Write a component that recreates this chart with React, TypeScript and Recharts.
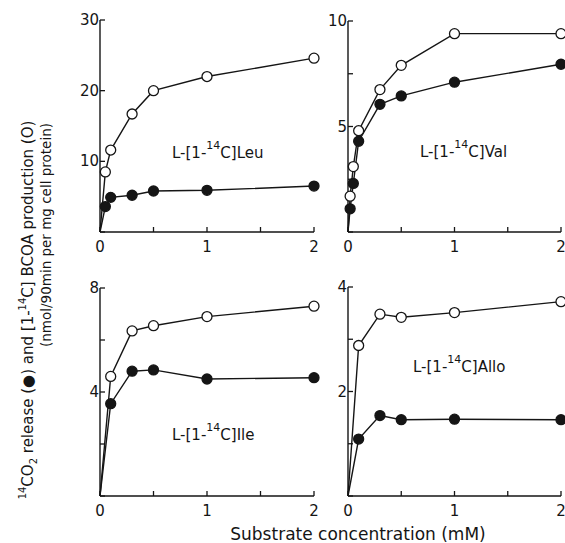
import { LineChart, Line, XAxis, YAxis } from "recharts";

// substrate concentration (mM) and nmol/90min per mg cell protein
const LEU_X = [0, 0.05, 0.1, 0.3, 0.5, 1, 2];
const LEU_OPEN = [0, 8.5, 11.6, 16.7, 20, 22, 24.6];
const LEU_FILLED = [0, 3.6, 4.9, 5.2, 5.8, 5.9, 6.5];

const VAL_X = [0, 0.02, 0.05, 0.1, 0.3, 0.5, 1, 2];
const VAL_OPEN = [0, 1.7, 3.1, 4.8, 6.75, 7.9, 9.4, 9.4];
const VAL_FILLED = [0, 1.1, 2.3, 4.3, 6.05, 6.45, 7.1, 7.95];

const ILE_X = [0, 0.1, 0.3, 0.5, 1, 2];
const ILE_OPEN = [0, 4.6, 6.35, 6.55, 6.9, 7.3];
const ILE_FILLED = [0, 3.55, 4.8, 4.85, 4.5, 4.55];

const ALLO_X = [0, 0.1, 0.3, 0.5, 1, 2];
const ALLO_OPEN = [0, 2.88, 3.48, 3.42, 3.51, 3.72];
const ALLO_FILLED = [0, 1.09, 1.54, 1.46, 1.47, 1.46];

const X_TICKS = [0, 0.5, 1, 1.5, 2];
const X_LABELS = [0, 1, 2];

const INK = "#151515";
const FONT = "'DejaVu Sans', sans-serif";

type PanelProps = {
  left: number; top: number; width: number; height: number;
  xs: number[]; open: number[]; filled: number[];
  yMax: number; yTicks: number[]; yLabels: number[];
};

function dot(fill: string) {
  return (p: any) => {
    if (p.index === 0) return <g key={p.index} />;
    return <circle key={p.index} cx={p.cx} cy={p.cy} r={5} fill={fill} stroke={INK} strokeWidth={1.3} />;
  };
}

function Panel({ left, top, width, height, xs, open, filled, yMax, yTicks, yLabels }: PanelProps) {
  const data = xs.map((x, i) => ({ x, open: open[i], filled: filled[i] }));
  const yTick = (p: any) => (
    <g>
      <line x1={p.x} x2={p.x + 5} y1={p.y} y2={p.y} stroke={INK} strokeWidth={1.3} />
      {yLabels.includes(p.payload.value) && (
        <text x={p.x - 1} y={p.y + 5} textAnchor="end" fontSize={15} fontFamily={FONT} fill={INK}>
          {p.payload.value}
        </text>
      )}
    </g>
  );
  const xTick = (p: any) => (
    <g>
      <line x1={p.x} x2={p.x} y1={p.y} y2={p.y - 5} stroke={INK} strokeWidth={1.3} />
      {X_LABELS.includes(p.payload.value) && (
        <text x={p.x} y={p.y + 20} textAnchor="middle" fontSize={15} fontFamily={FONT} fill={INK}>
          {p.payload.value}
        </text>
      )}
    </g>
  );
  return (
    <div style={{ position: "absolute", left, top }}>
      <LineChart width={width} height={height} data={data} margin={{ top: 10, right: 6, bottom: 0, left: 0 }}>
        <XAxis dataKey="x" type="number" domain={[0, 2]} ticks={X_TICKS} tick={xTick}
          tickSize={0} tickMargin={0} height={25} stroke={INK} strokeWidth={1.4} interval={0} />
        <YAxis type="number" domain={[0, yMax]} ticks={yTicks} tick={yTick}
          tickSize={0} tickMargin={0} width={30} stroke={INK} strokeWidth={1.4} interval={0} />
        <Line dataKey="filled" type="linear" stroke={INK} strokeWidth={1.4} dot={dot(INK)} isAnimationActive={false} />
        <Line dataKey="open" type="linear" stroke={INK} strokeWidth={1.4} dot={dot("#fff")} isAnimationActive={false} />
      </LineChart>
    </div>
  );
}

function PanelLabel({ x, y, name }: { x: number; y: number; name: string }) {
  return (
    <text x={x} y={y} fontSize={15} fontFamily={FONT} fill={INK}>
      L-[1-<tspan fontSize={11} dy={-9}>14</tspan><tspan dy={9}>C]{name}</tspan>
    </text>
  );
}

export default function App() {
  return (
    <div style={{ position: "absolute", left: 0, top: 0, width: 565, height: 543, background: "#fff", overflow: "hidden" }}>
      <Panel left={70} top={10} width={250} height={247} xs={LEU_X} open={LEU_OPEN} filled={LEU_FILLED}
        yMax={30} yTicks={[0, 10, 20, 30]} yLabels={[10, 20, 30]} />
      <Panel left={318} top={11} width={249} height={246} xs={VAL_X} open={VAL_OPEN} filled={VAL_FILLED}
        yMax={10} yTicks={[0, 2.5, 5, 7.5, 10]} yLabels={[5, 10]} />
      <Panel left={70} top={278} width={250} height={243} xs={ILE_X} open={ILE_OPEN} filled={ILE_FILLED}
        yMax={8} yTicks={[0, 2, 4, 6, 8]} yLabels={[4, 8]} />
      <Panel left={318} top={277} width={249} height={244} xs={ALLO_X} open={ALLO_OPEN} filled={ALLO_FILLED}
        yMax={4} yTicks={[0, 1, 2, 3, 4]} yLabels={[2, 4]} />
      <svg width={565} height={543} style={{ position: "absolute", left: 0, top: 0, pointerEvents: "none" }}>
        <PanelLabel x={172} y={158} name="Leu" />
        <PanelLabel x={420} y={157} name="Val" />
        <PanelLabel x={172} y={440} name="Ile" />
        <PanelLabel x={413} y={372} name="Allo" />
        <text x={358} y={540} textAnchor="middle" fontSize={17} fontFamily={FONT} fill={INK}>
          Substrate concentration (mM)
        </text>
        <text x={33} y={310} transform="rotate(-90 33 310)" textAnchor="middle" fontSize={15} fontFamily={FONT} fill={INK}>
          <tspan fontSize={10} dy={-7}>14</tspan><tspan dy={7}>CO</tspan><tspan fontSize={10} dy={4}>2</tspan>
          <tspan dy={-4}> release (●) and [1-</tspan><tspan fontSize={10} dy={-7}>14</tspan>
          <tspan dy={7}>C] BCOA production (O)</tspan>
        </text>
        <text x={51} y={235} transform="rotate(-90 51 235)" textAnchor="middle" fontSize={13.5} fontFamily={FONT} fill={INK}>
          (nmol/90min per mg cell protein)
        </text>
      </svg>
    </div>
  );
}
